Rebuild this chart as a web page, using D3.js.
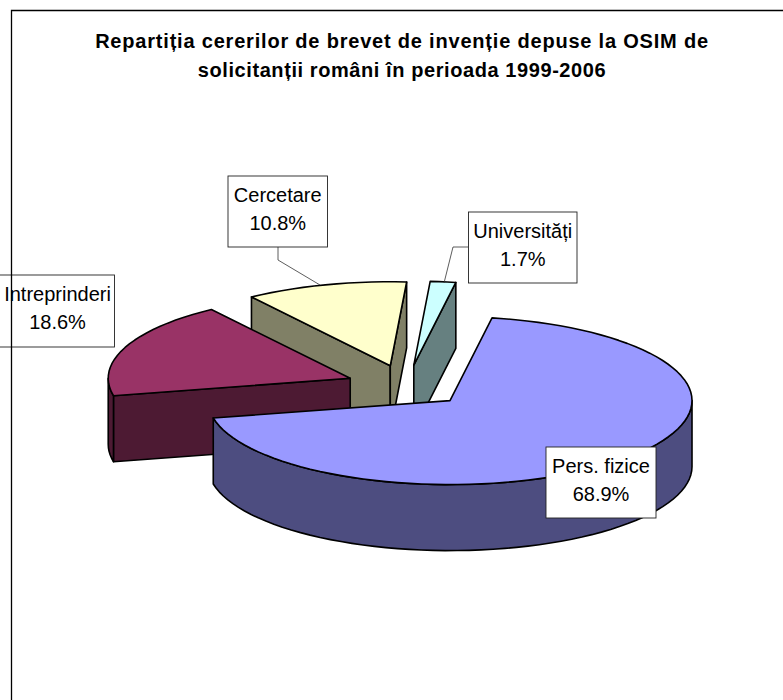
<!DOCTYPE html>
<head>
  <meta charset="utf-8">
  <script src="https://d3js.org/d3.v7.min.js"></script>
  <style>
    body { margin:0;background:#fff; }
    svg { display:block; }
    text { font-family:"Liberation Sans",Arial,sans-serif;fill:#000; }
  </style>
</head>
<body>
<script>
  var categories = ["Pers. fizice", "Intreprinderi", "Cercetare", "Universități"]
  var shares = [68.9, 18.6, 10.8, 1.7]
  var topColors = ["#9999ff", "#993366", "#ffffcc", "#ccffff"]
  var titleLines = [
    "Repartiția cererilor de brevet de invenție depuse la OSIM de",
    "solicitanții români în perioada 1999-2006"
  ]

  var svg = d3.select("body").append("svg")
    .attr("width", 783)
    .attr("height", 700)

  var titleSpacing = [0.8, 0.58]
  svg.selectAll(".title").data(titleLines).enter()
    .append("text")
    .attr("class", "title")
    .attr("x", 402)
    .attr("y", function(d, i) { return 48 + i * 29 })
    .attr("text-anchor", "middle")
    .attr("font-size", 20)
    .attr("font-weight", "bold")
    .attr("letter-spacing", function(d, i) { return titleSpacing[i] })
    .text(function(d) { return d })

  // pie angles, 0 = up, going clockwise. Excel first slice angle is 10 degrees
  var startAngle = 10 * Math.PI / 180
  var pie = d3.pie()
    .sort(null)
    .startAngle(startAngle)
    .endAngle(startAngle + 2 * Math.PI)
  var slices = pie(shares)

  // unit circle -> squashed pie on the page
  var cx = 406.5, cy = 386, rx = 242, ry = 84, depth = 66, explode = 0.25
  var px = d3.scaleLinear().domain([-1, 1]).range([cx - rx, cx + rx])
  var py = d3.scaleLinear().domain([-1, 1]).range([cy - ry, cy + ry])

  function pt(a, r, o, drop) {
    return [px(r * Math.sin(a) + o.x), py(-r * Math.cos(a) + o.y) + drop]
  }

  function arcAngles(a0, a1) {
    var n = Math.max(2, Math.ceil((a1 - a0) / 0.05))
    return d3.range(n + 1).map(function(i) { return a0 + (a1 - a0) * i / n })
  }

  var line = d3.line()
  function closed(points) { return line(points) + "Z" }

  slices.forEach(function(s, i) {
    var mid = (s.startAngle + s.endAngle) / 2
    s.offset = { x: explode * Math.sin(mid), y: -explode * Math.cos(mid) }
    s.top = topColors[i]
    var c = d3.rgb(topColors[i])
    s.wall = d3.rgb(c.r / 2, c.g / 2, c.b / 2).formatHex()
    s.name = categories[i]
  })

  // back to front: Universități, Cercetare, Intreprinderi, Pers. fizice
  var order = d3.range(slices.length).reverse()

  function wallStyle(sel, s) {
    sel.attr("fill", s.wall)
      .attr("stroke", "#000")
      .attr("stroke-width", 1.6)
      .attr("stroke-linejoin", "round")
  }

  function cutWall(g, s, a) {
    var o = s.offset
    g.append("path")
      .attr("d", closed([pt(a, 0, o, 0), pt(a, 1, o, 0), pt(a, 1, o, depth), pt(a, 0, o, depth)]))
      .call(wallStyle, s)
  }

  order.forEach(function(k) {
    var s = slices[k]
    var g = svg.append("g").attr("class", "slice")
    var o = s.offset

    // a cut wall only shows when it faces the viewer
    if (Math.sin(s.startAngle) < 0) cutWall(g, s, s.startAngle)
    if (Math.sin(s.endAngle) > 0) cutWall(g, s, s.endAngle)

    // rim, only the part that faces us
    var a0 = Math.max(s.startAngle, Math.PI / 2)
    var a1 = Math.min(s.endAngle, 3 * Math.PI / 2)
    if (a1 > a0) {
      var angles = arcAngles(a0, a1)
      var rim = angles.map(function(a) { return pt(a, 1, o, 0) })
        .concat(angles.slice().reverse().map(function(a) { return pt(a, 1, o, depth) }))
      g.append("path").attr("d", closed(rim)).call(wallStyle, s)
    }

    var face = [pt(s.startAngle, 0, o, 0)]
      .concat(arcAngles(s.startAngle, s.endAngle).map(function(a) { return pt(a, 1, o, 0) }))
    g.append("path")
      .attr("d", closed(face))
      .attr("fill", s.top)
      .attr("stroke", "#000")
      .attr("stroke-width", 1.6)
      .attr("stroke-linejoin", "round")
  })

  // leader lines
  var leaders = [
    [[278, 247], [278, 260], [320, 285]],
    [[468, 247], [453, 247], [444, 283]]
  ]
  svg.selectAll(".leader").data(leaders).enter()
    .append("path")
    .attr("class", "leader")
    .attr("d", function(d) { return d3.line()(d) })
    .attr("fill", "none")
    .attr("stroke", "#333")
    .attr("stroke-width", 0.8)

  // label boxes: x0, y0, x1, y1 on the page
  var boxes = {
    "Pers. fizice": [546, 447, 656, 518],
    "Intreprinderi": [-1, 275, 114.5, 347],
    "Cercetare": [228, 176, 327.5, 247],
    "Universități": [468.5, 212, 577, 283]
  }
  var textCenter = { "Intreprinderi": 57.5 }

  function moveToBox(d) {
    var b = boxes[d.name]
    return "translate(" + b[0] + "," + b[1] + ")"
  }
  function midX(d) {
    var b = boxes[d.name]
    return (textCenter[d.name] || (b[0] + b[2]) / 2) - b[0]
  }

  svg.selectAll(".label-box").data(slices).enter()
    .append("rect")
    .attr("class", "label-box")
    .attr("transform", moveToBox)
    .attr("width", function(d) { return boxes[d.name][2] - boxes[d.name][0] })
    .attr("height", function(d) { return boxes[d.name][3] - boxes[d.name][1] })
    .attr("fill", "#fff")
    .attr("stroke", "#222")
    .attr("stroke-width", 0.9)

  // chart frame runs off the right and bottom of the picture, and shows through the left label
  svg.append("path")
    .attr("d", "M11.5,700V10.5H783")
    .attr("fill", "none")
    .attr("stroke", "#000")
    .attr("stroke-width", 1.3)

  var labels = svg.selectAll(".label").data(slices).enter()
    .append("g")
    .attr("class", "label")
    .attr("transform", moveToBox)
  labels.append("text")
    .attr("x", midX)
    .attr("y", 26)
    .attr("text-anchor", "middle")
    .attr("font-size", 20)
    .text(function(d) { return d.name })
  labels.append("text")
    .attr("x", midX)
    .attr("y", 54)
    .attr("text-anchor", "middle")
    .attr("font-size", 20)
    .text(function(d) { return d3.format(".1f")(d.data) + "%" })
</script>
</body>
